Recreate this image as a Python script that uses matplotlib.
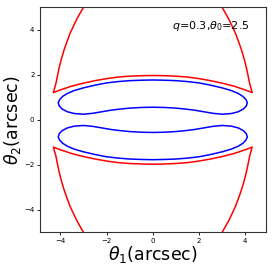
"""Critical curves and caustics for q=0.3, theta0=2.5."""

import matplotlib.pyplot as plt
import numpy as np
from matplotlib.patches import Polygon

# left half of the upper critical loop (blue), from top centre round to bottom centre
loop_x = [0.0, -0.5, -1.0, -1.5, -2.0, -2.5, -3.0, -3.4, -3.7, -3.9, -4.03, -4.09,
          -4.05, -3.92, -3.7, -3.4, -3.0, -2.6, -2.2, -1.8, -1.4, -1.0, -0.5, 0.0]
loop_y = [1.77, 1.76, 1.74, 1.70, 1.64, 1.54, 1.42, 1.30, 1.17, 1.04, 0.90, 0.76,
          0.62, 0.48, 0.36, 0.28, 0.25, 0.29, 0.36, 0.43, 0.48, 0.52, 0.55, 0.56]

# left half of the upper caustic arc (red), cusp to centre
arc_x = [-4.30, -4.0, -3.5, -3.0, -2.5, -2.0, -1.5, -1.0, -0.5, 0.0]
arc_y = [1.21, 1.33, 1.50, 1.63, 1.74, 1.83, 1.90, 1.94, 1.96, 1.97]

# upper-left caustic branch (red), from the frame edge down to the cusp
branch_x = [-3.0, -3.3, -3.58, -3.72, -3.84, -3.95, -4.04, -4.12, -4.19, -4.30]
branch_y = [5.0, 4.45, 3.84, 3.45, 3.10, 2.72, 2.36, 1.98, 1.62, 1.21]


def main() -> None:
    lx, ly = np.array(loop_x), np.array(loop_y)
    ax_, ay_ = np.array(arc_x), np.array(arc_y)
    bx, by = np.array(branch_x), np.array(branch_y)

    # full curves by the lens symmetry in x and y
    loop_full_x = np.concatenate([lx, -lx[::-1][1:-1]])
    loop_full_y = np.concatenate([ly, ly[::-1][1:-1]])
    red_x = np.concatenate([bx, ax_[1:], -ax_[::-1][1:], -bx[::-1][1:]])
    red_y = np.concatenate([by, ay_[1:], ay_[::-1][1:], by[::-1][1:]])

    fig = plt.figure(figsize=(2.73, 2.69), dpi=100)
    ax = fig.add_axes([0.1465, 0.136, 0.828, 0.837])

    for sign in (1, -1):
        loop = Polygon(np.column_stack([loop_full_x, sign * loop_full_y]), closed=True,
                       fill=False, edgecolor="blue", lw=1.1)
        ax.add_patch(loop)
        ax.plot(red_x, sign * red_y, color="red", lw=1.1)

    ax.text(0.83, 4.17, r"$q$=0.3,$\theta_0$=2.5", fontsize=8, va="center")

    ax.set_xlim(-4.88, 4.9)
    ax.set_ylim(-5, 5)
    ax.set_xticks([-4, -2, 0, 2, 4])
    ax.set_yticks([-4, -2, 0, 2, 4])
    ax.tick_params(labelsize=5, length=2, width=0.6, pad=2)
    for spine in ax.spines.values():
        spine.set_linewidth(0.8)
        spine.set_color("#333333")
    ax.set_xlabel(r"$\theta_1$(arcsec)", fontsize=12.5, labelpad=0)
    ax.set_ylabel(r"$\theta_2$(arcsec)", fontsize=12.5, labelpad=1)

    fig.savefig("out.png", dpi=100)
    plt.close(fig)


if __name__ == "__main__":
    main()
